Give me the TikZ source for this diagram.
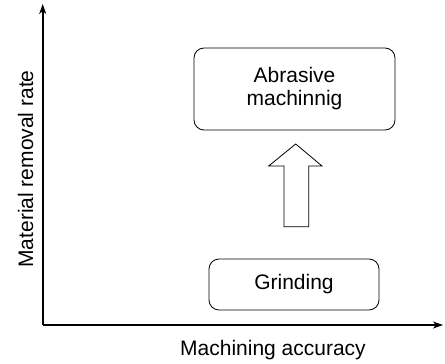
\documentclass[tikz,border=0pt]{standalone}
\usepackage{fontspec}
\setmainfont{Liberation Sans}
\usetikzlibrary{arrows.meta}
\begin{document}
\begin{tikzpicture}[x=1pt,y=-1pt,
  box/.style={draw,line width=0.8pt,rounded corners=10pt,align=center,font=\fontsize{21}{23}\selectfont,inner sep=0pt},
  axis/.style={line width=1.7pt,-{Stealth[length=10pt,width=7pt,inset=3pt]}},
  lbl/.style={font=\fontsize{21}{23}\selectfont,inner sep=0pt}]
\useasboundingbox (0,0) rectangle (445,364);
\coordinate (O) at (42.7,325);
\coordinate (Ytop) at (42.7,4);
\coordinate (Xend) at (443,325);
\draw[axis] (O) -- (Ytop);
\draw[axis] (O) -- (Xend);
\node[box,minimum width=201pt,minimum height=82pt] (abr) at (294.5,89) {Abrasive\\machinnig};
\node[box,minimum width=170pt,minimum height=51pt] (gri) at (294,284.5) {Grinding};
\draw[line width=0.8pt,line join=miter] (284,226.7) -- (284,166) -- (268.7,166) -- (295.7,144) -- (322,166) -- (308.7,166) -- (308.7,226.7) -- cycle;
\node[lbl] (xl) at (273,350) {Machining accuracy};
\node[lbl,rotate=90] (yl) at (25.5,169) {Material removal rate};
\end{tikzpicture}
\end{document}
